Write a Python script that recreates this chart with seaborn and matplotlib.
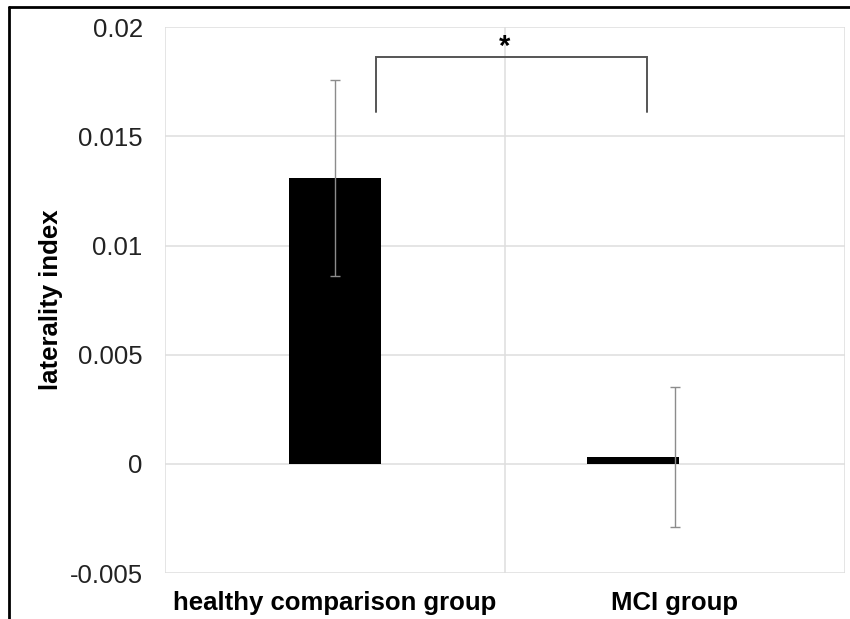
import matplotlib
matplotlib.use("Agg")
import matplotlib.pyplot as plt
import seaborn as sns
import pandas as pd
from matplotlib.lines import Line2D

# ---- data ----
groups = ["healthy comparison group", "MCI group"]
laterality = [0.0131, 0.0003]
sem = [0.0045, 0.0032]
y_ticks = [-0.005, 0, 0.005, 0.01, 0.015, 0.02]
y_tick_labels = ["-0.005", "0", "0.005", "0.01", "0.015", "0.02"]
sig_label = "*"
sig_bracket_top = 0.01865
sig_bracket_bottom = 0.0161

sns.set_theme(style="white")
plt.rcParams["font.family"] = ["Liberation Sans", "DejaVu Sans"]

df = pd.DataFrame({"group": groups, "li": laterality})

fig = plt.figure(figsize=(8.5, 6.19), dpi=100)
ax = fig.add_axes([0.194, 0.0743, 0.8, 0.8817])

sns.barplot(data=df, x="group", y="li", color="black", width=0.27,
            saturation=1, errorbar=None, ax=ax, zorder=3)
# layout offsets of the bars (second bar drawn left of its category centre)
bar_offsets = [0.0, -0.124]
for p, off in zip(ax.patches, bar_offsets):
    p.set_x(p.get_x() + off)
    p.set_linewidth(0)

ax.errorbar(range(len(groups)), laterality, yerr=sem, fmt="none",
            ecolor="#8c8c8c", elinewidth=1.0, capsize=3.5, capthick=1.0, zorder=4)

ax.set_xlim(-0.5, 1.5)
ax.set_ylim(-0.005, 0.02)
ax.set_yticks(y_ticks)
ax.set_yticklabels(y_tick_labels)

# gridlines (Excel style)
for y in y_ticks:
    ax.axhline(y, color="#dedede", lw=1.1, zorder=0)
for x in [-0.5, 0.5, 1.5]:
    ax.axvline(x, color="#dedede", lw=1.1, zorder=0)
for s in ax.spines.values():
    s.set_visible(False)

ax.tick_params(axis="y", length=0, pad=16, labelsize=18.5, colors="#222222")
ax.tick_params(axis="x", length=0, pad=13, labelsize=18.5)
for t in ax.get_xticklabels():
    t.set_fontweight("bold")
    t.set_color("black")

ax.set_xlabel("")
ax.set_ylabel("laterality index", fontsize=18.5, fontweight="bold", color="black")
ax.yaxis.set_label_coords(-0.15, 0.5)

# significance bracket
bx0, bx1 = 0.12, 0.918
ax.plot([bx0, bx0, bx1, bx1],
        [sig_bracket_bottom, sig_bracket_top, sig_bracket_top, sig_bracket_bottom],
        color="#555555", lw=1.4, zorder=5, solid_joinstyle="miter")
ax.text(0.5, 0.0191, sig_label, ha="center", va="center", fontsize=21,
        fontweight="bold", color="black", zorder=6)

# figure border (top and left)
fig.add_artist(Line2D([8.5 / 850, 1.0], [1 - 6.7 / 619, 1 - 6.7 / 619],
                      transform=fig.transFigure, color="black", lw=2))
fig.add_artist(Line2D([8.5 / 850, 8.5 / 850], [0, 1 - 6.7 / 619],
                      transform=fig.transFigure, color="black", lw=2))

fig.savefig("out.png", dpi=100)
